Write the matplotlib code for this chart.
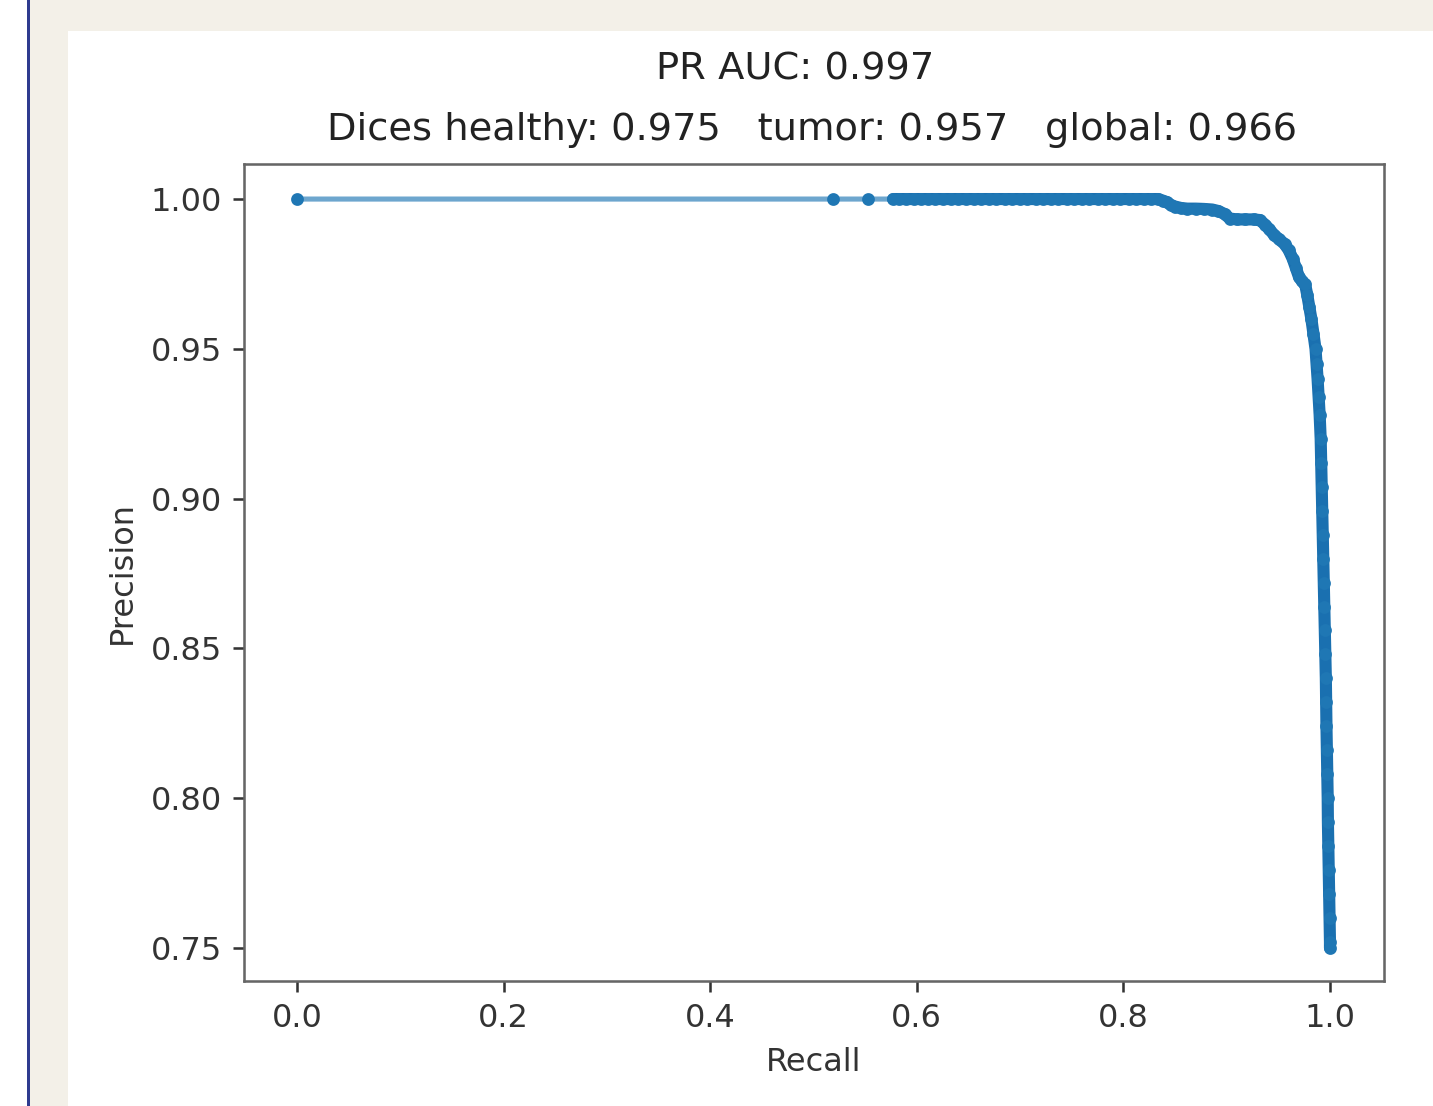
"""Precision-recall curve of the segmentation model, redrawn as a screenshot."""
import matplotlib
matplotlib.use("Agg")
import matplotlib.pyplot as plt
from matplotlib.patches import Rectangle

# recall / precision pairs
recall = [
    0.0, 0.519, 0.553, 0.577, 0.583, 0.590, 0.597, 0.604, 0.611, 0.618,
    0.625, 0.633, 0.640, 0.648, 0.655, 0.662, 0.670, 0.677, 0.685, 0.692,
    0.700, 0.707, 0.715, 0.722, 0.730, 0.737, 0.745, 0.752, 0.760, 0.767,
    0.775, 0.782, 0.790, 0.797, 0.805, 0.812, 0.820, 0.827, 0.834,
    0.838, 0.842, 0.846, 0.850, 0.856, 0.862, 0.870, 0.878, 0.886, 0.892,
    0.898, 0.903, 0.910, 0.918, 0.926, 0.932, 0.937, 0.941, 0.946, 0.951,
    0.956, 0.960, 0.964, 0.967, 0.970, 0.973, 0.976, 0.978, 0.980, 0.982,
    0.984, 0.986, 0.987, 0.988, 0.989, 0.990, 0.991, 0.9915, 0.992, 0.9925,
    0.993, 0.9935, 0.994, 0.9945, 0.995, 0.9955, 0.996, 0.9963, 0.9966, 0.997,
    0.9974, 0.9978, 0.998, 0.9984, 0.9988, 0.9992, 0.9996, 1.0, 1.0,
]
precision = [
    1.0, 1.0, 1.0, 1.0, 1.0, 1.0, 1.0, 1.0, 1.0, 1.0,
    1.0, 1.0, 1.0, 1.0, 1.0, 1.0, 1.0, 1.0, 1.0, 1.0,
    1.0, 1.0, 1.0, 1.0, 1.0, 1.0, 1.0, 1.0, 1.0, 1.0,
    1.0, 1.0, 1.0, 1.0, 1.0, 1.0, 1.0, 1.0, 1.0,
    0.9995, 0.999, 0.998, 0.9975, 0.997, 0.9968, 0.9968, 0.9967, 0.9965, 0.996,
    0.995, 0.9935, 0.9932, 0.9932, 0.9932, 0.993, 0.9915, 0.990, 0.988, 0.9865,
    0.985, 0.983, 0.980, 0.977, 0.974, 0.9725, 0.9715, 0.968, 0.964, 0.960,
    0.955, 0.950, 0.945, 0.940, 0.934, 0.928, 0.920, 0.912, 0.904, 0.896,
    0.888, 0.880, 0.872, 0.864, 0.856, 0.848, 0.840, 0.832, 0.824, 0.816,
    0.808, 0.800, 0.792, 0.784, 0.776, 0.768, 0.760, 0.752, 0.750,
]
pr_auc = 0.997
dice_healthy, dice_tumor, dice_global = 0.975, 0.957, 0.966
dense_from = 3  # thresholds pile up from here on, markers merge into a band

W, H, DPI = 1433, 1106, 230
fig = plt.figure(figsize=(W / DPI, H / DPI), dpi=DPI)
fig.patch.set_facecolor("white")


def px(x0, y0, w, h):
    # pixel box (top-left origin) -> figure fraction rect
    return (x0 / W, 1 - (y0 + h) / H, w / W, h / H)


# page frame around the screenshot: beige margin plus a thin blue rule
fig.add_artist(Rectangle(px(30, 0, W - 30, H)[:2], (W - 30) / W, 1,
                         transform=fig.transFigure, color="#f3f0e8", lw=0, zorder=-3))
fig.add_artist(Rectangle(px(27, 0, 3, H)[:2], 3 / W, 1,
                         transform=fig.transFigure, color="#2f3b8f", lw=0, zorder=-2))
fig.add_artist(Rectangle(px(68, 31, W - 68, H - 31)[:2], (W - 68) / W, (H - 31) / H,
                         transform=fig.transFigure, color="white", lw=0, zorder=-1))

ax = fig.add_axes(px(244, 164, 1140, 817))
ax.plot(recall, precision, "-", color="#1f77b4", lw=1.6, alpha=0.65)
ax.plot(recall[dense_from:], precision[dense_from:], "-", color="#1a70b0",
        lw=3.8, solid_capstyle="round", solid_joinstyle="round")
ax.plot(recall, precision, ".", color="#1f77b4", ms=6)
ax.set_xlim(-0.0513, 1.0523)
ax.set_ylim(0.739, 1.0117)
ax.set_yticks([0.75, 0.80, 0.85, 0.90, 0.95, 1.00])
ax.set_xlabel("Recall", color="#333333")
ax.set_ylabel("Precision", color="#333333")
for s in ax.spines.values():
    s.set_color("#666666")
ax.tick_params(colors="#333333", labelcolor="#333333")

fig.text(795 / W, 1 - 70 / H, f"PR AUC: {pr_auc}", ha="center", va="center",
         fontsize=12, color="#222222")
fig.text(812 / W, 1 - 130 / H,
         f"Dices healthy: {dice_healthy}   tumor: {dice_tumor}   global: {dice_global}",
         ha="center", va="center", fontsize=12, color="#222222")

fig.savefig("out.png", dpi=DPI)
